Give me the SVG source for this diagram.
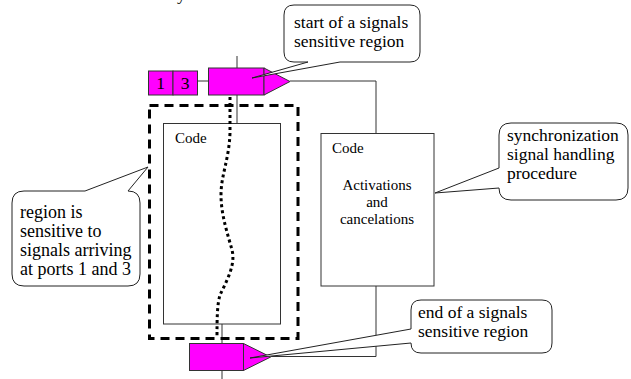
<svg xmlns="http://www.w3.org/2000/svg" width="631" height="379" viewBox="0 0 631 379">
  <style>
    .box { fill: #ffffff; stroke: #333333; stroke-width: 1; }
    .sig { fill: #ff00ff; stroke: #333333; stroke-width: 1; }
    .wire { fill: none; stroke: #333333; stroke-width: 1; }
    .call { fill: #ffffff; stroke: #222222; stroke-width: 1; }
    .lbl { font-family: "Liberation Serif", "Times New Roman", serif; font-size: 17.5px; fill: #000000; }
    .code { font-family: "Liberation Serif", "Times New Roman", serif; font-size: 15px; fill: #000000; }
    .region { fill: none; stroke: #000000; stroke-width: 3; stroke-dasharray: 9 6; }
    .path { fill: none; stroke: #000000; stroke-width: 3; stroke-dasharray: 3 3; }
  </style>

  <!-- fragment of text from above -->
  <text class="lbl" x="177" y="0">y</text>

  <!-- connectors -->
  <g id="connectors">
    <line class="wire" x1="237" y1="56" x2="237" y2="68"/>
    <line class="wire" x1="197" y1="81" x2="208" y2="81"/>
    <line class="wire" x1="237" y1="95" x2="237" y2="123"/>
    <polyline class="wire" points="290,81 376,81 376,133"/>
    <polyline class="wire" points="376,286 376,356.5 270.7,356.5"/>
    <line class="wire" x1="222" y1="324" x2="222" y2="343"/>
    <line class="wire" x1="222" y1="371" x2="222" y2="379"/>
  </g>

  <!-- sensitive region outline -->
  <g id="region">
    <rect class="region" x="149.5" y="105.5" width="148.5" height="233"/>
  </g>

  <!-- code block of the region -->
  <g id="code-main">
    <rect class="box" x="163.5" y="123.5" width="117" height="200.5"/>
    <text class="code" x="175" y="143">Code</text>
  </g>

  <!-- signal handling procedure -->
  <g id="code-handler">
    <rect class="box" x="321" y="133.5" width="113" height="152.5"/>
    <text class="code" x="332" y="153">Code</text>
    <text class="code" x="377" y="190" text-anchor="middle">Activations</text>
    <text class="code" x="377" y="207" text-anchor="middle">and</text>
    <text class="code" x="377" y="224" text-anchor="middle">cancelations</text>
  </g>

  <!-- ports -->
  <g id="ports">
    <rect class="sig" x="148.5" y="71" width="24.5" height="24"/>
    <rect class="sig" x="173" y="71" width="24.5" height="24"/>
    <text class="lbl" x="160.5" y="89" text-anchor="middle">1</text>
    <text class="lbl" x="185" y="89" text-anchor="middle">3</text>
  </g>

  <!-- region start signal -->
  <g id="start">
    <rect class="sig" x="208.5" y="68" width="55.5" height="27"/>
    <polygon class="sig" points="264,68 290,81.5 264,95"/>
  </g>

  <!-- region end signal -->
  <g id="end">
    <rect class="sig" x="189.5" y="343.5" width="54" height="27"/>
    <polygon class="sig" points="243.5,343.5 270.7,357 243.5,370.5"/>
  </g>

  <!-- execution path through the region -->
  <path class="path" d="M230,97 L230,133 C229,160 221,175 221,195 C221,215 228,235 232,250 C236,265 226,282 220,295 C217,305 217,320 217,338"/>

  <!-- callouts -->
  <g id="callout-start">
    <path class="call" d="M294,5 H410 Q420,5 420,15 V52 Q420,62 410,62 H340 L252,78 L308,62 H294 Q284,62 284,52 V15 Q284,5 294,5 Z"/>
    <text class="lbl" x="294" y="28">start of a signals</text>
    <text class="lbl" x="294" y="47">sensitive region</text>
  </g>

  <g id="callout-handler">
    <path class="call" d="M511,123 H616 Q628,123 628,135 V188 Q628,200 616,200 H511 Q499,200 499,188 L435,193 L499,168 V135 Q499,123 511,123 Z"/>
    <text class="lbl" x="507" y="141">synchronization</text>
    <text class="lbl" x="507" y="160">signal handling</text>
    <text class="lbl" x="507" y="179">procedure</text>
  </g>

  <g id="callout-end">
    <path class="call" d="M421,300 H542 Q552,300 552,310 V343 Q552,353 542,353 H421 Q411,353 411,343 L250,358 L411,329 V310 Q411,300 421,300 Z"/>
    <text class="lbl" x="418" y="318">end of a signals</text>
    <text class="lbl" x="418" y="337">sensitive region</text>
  </g>

  <g id="callout-ports">
    <path class="call" d="M24,191 H85 L148,167 L128,191 Q140,191 140,203 V274 Q140,286 128,286 H24 Q12,286 12,274 V203 Q12,191 24,191 Z"/>
    <text class="lbl" x="20" y="218" style="font-size:18px">region is</text>
    <text class="lbl" x="20" y="237" style="font-size:18px">sensitive to</text>
    <text class="lbl" x="20" y="256" style="font-size:18px">signals arriving</text>
    <text class="lbl" x="20" y="275" style="font-size:18px">at ports 1 and 3</text>
  </g>
</svg>
